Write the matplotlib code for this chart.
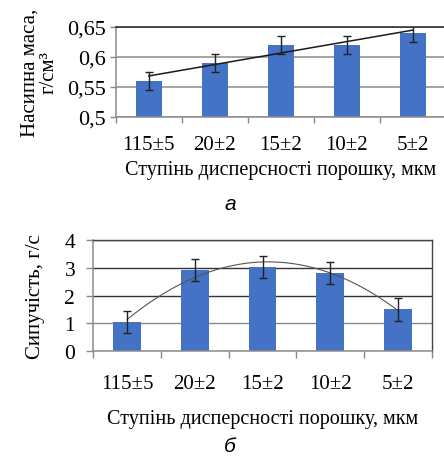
import matplotlib
matplotlib.use("Agg")
import matplotlib.pyplot as plt
from matplotlib.ticker import FuncFormatter
import numpy as np

plt.rcParams['font.family'] = ['Liberation Serif', 'DejaVu Serif']

# ---------------- data ----------------
categories = ['115±5', '20±2', '15±2', '10±2', '5±2']

bulk_mass = [0.56, 0.59, 0.62, 0.62, 0.64]        # г/см3
bulk_err = [0.015, 0.015, 0.015, 0.015, 0.015]
bulk_ticks = [0.5, 0.55, 0.6, 0.65]

flowability = [1.04, 2.91, 3.01, 2.8, 1.5]        # г/с
flow_err = [0.4, 0.4, 0.4, 0.4, 0.4]
flow_ticks = [0, 1, 2, 3, 4]

xlabel = 'Ступінь дисперсності порошку, мкм'

BAR = '#4472c4'
W, H = 444, 460

fig = plt.figure(figsize=(W / 100, H / 100), dpi=100)


def px_axes(x0, y0, x1, y1):
    # axes from pixel box (top-left origin)
    return fig.add_axes([x0 / W, 1 - y1 / H, (x1 - x0) / W, (y1 - y0) / H])


def comma(v, pos):
    s = ('%.2f' % v).rstrip('0').rstrip('.')
    return s.replace('.', ',')


x = np.arange(len(categories))

# ---------------- (a) ----------------
ax1 = px_axes(115.8, 27.5, 445.8, 118)
ax1.bar(x, bulk_mass, width=0.4, color=BAR, zorder=2,
        yerr=bulk_err, error_kw=dict(ecolor='#222222', elinewidth=1.0,
                                     capsize=3, capthick=1.0, zorder=4))
k1 = np.polyfit(x, bulk_mass, 1)
ax1.plot(x, np.polyval(k1, x), color='#1a1a1a', lw=1.1, zorder=3)
ax1.set_xlim(-0.5, 4.5)
ax1.set_ylim(0.5, 0.65)
ax1.set_yticks(bulk_ticks)
ax1.yaxis.set_major_formatter(FuncFormatter(comma))
ax1.set_xticks(x)
ax1.set_xticklabels(categories)
ax1.set_xticks(np.arange(-0.5, 5, 1), minor=True)
ax1.tick_params(axis='x', which='major', length=0, pad=13, labelsize=15)
ax1.tick_params(axis='x', which='minor', length=4, color='#888888', width=1)
ax1.tick_params(axis='y', length=4, color='#888888', width=1, labelsize=16,
                pad=3)
ax1.grid(axis='y', color='#8c8c8c', lw=1.1, zorder=0)
for s in ['left', 'bottom']:
    ax1.spines[s].set_color('#8c8c8c')
    ax1.spines[s].set_linewidth(1.1)
ax1.spines['top'].set_color('#222222')
ax1.spines['top'].set_linewidth(1.1)
ax1.spines['right'].set_visible(False)
ax1.set_xlabel(xlabel, fontsize=14.5, labelpad=4)
ax1.set_ylabel('Насипна маса,\nг/см³', fontsize=15, linespacing=1.0,
               labelpad=6)

fig.text(230 / W, 1 - 205 / H, 'а', fontsize=15, style='italic',
         family='Liberation Sans', ha='center', va='center')

# ---------------- (б) ----------------
ax2 = px_axes(93.3, 240.7, 431.7, 352.3)
ax2.bar(x, flowability, width=0.41, color=BAR, zorder=2,
        yerr=flow_err, error_kw=dict(ecolor='#222222', elinewidth=1.0,
                                     capsize=3, capthick=1.0, zorder=4))
k2 = np.polyfit(x, flowability, 2)
xs = np.linspace(0, 4, 100)
ax2.plot(xs, np.polyval(k2, xs), color='#555555', lw=0.8, zorder=3)
ax2.set_xlim(-0.5, 4.5)
ax2.set_ylim(0, 4)
ax2.set_yticks(flow_ticks)
ax2.set_xticks(x)
ax2.set_xticklabels(categories)
ax2.set_xticks(np.arange(-0.5, 5, 1), minor=True)
ax2.tick_params(axis='x', which='major', length=0, pad=16, labelsize=15)
ax2.tick_params(axis='x', which='minor', length=5, color='#888888', width=1)
ax2.tick_params(axis='y', length=5, color='#888888', width=1, labelsize=15.5,
                pad=8)
ax2.grid(axis='y', color='#333333', lw=1.0, zorder=0)
grid_cols = ['#888888', '#888888', '#333333', '#333333', '#444444']
for gl, c in zip(ax2.yaxis.get_gridlines(), grid_cols):
    gl.set_color(c)
for s in ['left', 'bottom']:
    ax2.spines[s].set_color('#8c8c8c')
    ax2.spines[s].set_linewidth(1.1)
for s in ['top', 'right']:
    ax2.spines[s].set_color('#444444')
    ax2.spines[s].set_linewidth(1.0)
ax2.set_xlabel(xlabel, fontsize=14.5, labelpad=12)
ax2.set_ylabel('Сипучість, г/с', fontsize=15, labelpad=14)

fig.text(230 / W, 1 - 447 / H, 'б', fontsize=15, style='italic',
         family='Liberation Sans', ha='center', va='center')

fig.savefig('out.png', dpi=100)
